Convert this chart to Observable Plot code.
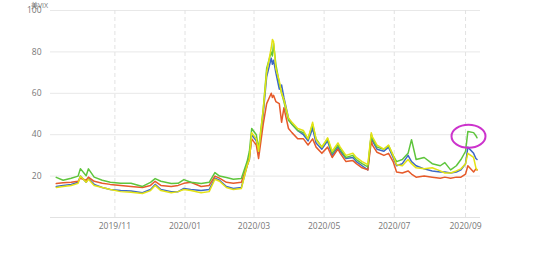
<!DOCTYPE html>
<html><head><meta charset="utf-8">
<script src="https://cdn.jsdelivr.net/npm/d3@7"></script>
<script src="https://cdn.jsdelivr.net/npm/@observablehq/plot@0.6"></script>
<style>body{margin:0;background:#fff;}</style>
</head><body><div id="chart"></div>
<script>
const dates = ["2019-09-11","2019-09-17","2019-09-24","2019-09-30","2019-10-02","2019-10-07","2019-10-09","2019-10-14","2019-10-21","2019-10-28",
"2019-11-06","2019-11-15","2019-11-25","2019-12-02","2019-12-06","2019-12-11","2019-12-20","2019-12-26","2019-12-31","2020-01-06",
"2020-01-15","2020-01-22","2020-01-27","2020-01-31","2020-02-06","2020-02-12","2020-02-19","2020-02-24","2020-02-26","2020-02-28",
"2020-03-03","2020-03-05","2020-03-09","2020-03-12","2020-03-16","2020-03-17","2020-03-18","2020-03-20","2020-03-23","2020-03-25",
"2020-03-27","2020-03-31","2020-04-03","2020-04-08","2020-04-13","2020-04-17","2020-04-21","2020-04-24","2020-04-29","2020-05-04",
"2020-05-08","2020-05-13","2020-05-15","2020-05-20","2020-05-26","2020-05-29","2020-06-03","2020-06-08","2020-06-11","2020-06-12",
"2020-06-16","2020-06-22","2020-06-26","2020-06-30","2020-07-03","2020-07-08","2020-07-13","2020-07-16","2020-07-20","2020-07-27",
"2020-08-03","2020-08-10","2020-08-14","2020-08-19","2020-08-24","2020-08-28","2020-09-01","2020-09-03","2020-09-08","2020-09-10","2020-09-11"];

const greenValues = [19.4,18,19,20,23.6,20.2,23.5,19.5,18,17,
16.5,16.5,15,17,18.8,17.5,16.4,16.5,18.3,17,
16.4,17,21.7,20,19.3,18.5,18.8,27,32,43,
40,33,52,72,80,78,84,74,65,60,
56,47,45,42,41,38,45,38,34,38,
31,35,33,29,30,28,26,24.5,40,38,
34,33,34.7,30,27,28,31,37.6,28,29,
26,25,26.5,23,25,28,32,41.5,41,39.5,38.5];

const blueValues = [15,15.5,16,17,20,17,19,16,14.5,13.5,
13,12.8,12,13.5,16,13.5,12.5,12.5,14,13.5,
13,13.5,19,18,15,14,14.5,25,28,40,
37,31,50,68,77,74,76,70,62,64,
58,48,45,42,40,37,43,36,33,37,
30,34,32,28.5,29,27,25,23,40,37,
33,32,34,29,25,26,30,27,25,23.5,
22.5,22,22,21.5,22,23,26,34,31,28.5,28];

const orangeValues = [16.4,16.8,17,17.5,19,18,19.5,17.5,16.5,16,
15.5,15,14.5,15.5,17.5,15.5,15,15.5,16.5,17,
15,15.5,20,19,17,16.5,17,25,29,38,
35,28.5,45,55,60,58,59,56,55,46,
53,43,41,38,38,35,38,34,31,34,
29,33,31,27,27.5,26,24,23,37,35,
31.5,30,31,27,22,21.5,22.5,21,19.5,20,
19.5,19,19.5,19,19.5,19.5,21,25,22,23.5,23];

const yellowValues = [14.5,15,15.5,16.5,20,17,18.5,15.5,14.5,13.5,
12.5,12.2,11.6,13,15.5,13,12,12.5,13.5,13,
12,12.5,18.5,17.5,14.5,13.5,14,25,28,41,
38,32,52,70,82,86,85,72,66,60,
57,48,46,43,42,38,46,37.5,34,38.5,
32,36,34,30,31,29,27,25.5,41,39,
35,33,35,30,25.5,25,28,26,24,23.5,
24,22.5,21.5,21.5,22.5,23.5,26,31,29,24,23];

const seriesNames = ["S1","S2","S3","S4"];
const seriesColors = ["#3d68c6","#e65a2a","#5ec53c","#e3e314"];
const yTicks = [20,40,60,80,100];
const xTicks = ["2019-11-01","2020-01-01","2020-03-01","2020-05-01","2020-07-01","2020-09-01"];
const yTitle = "美VIX";
const annotation = {date:"2020-09-04", value:39};

const valuesBySeries = {S1:blueValues, S2:orangeValues, S3:greenValues, S4:yellowValues};
const data = seriesNames.flatMap(s => dates.map((d,i) => ({date:new Date(d), value:valuesBySeries[s][i], series:s})));
const xTickDates = xTicks.map(d => new Date(d));

const plot = Plot.plot({
  width:550, height:270,
  marginLeft:50, marginRight:70, marginTop:10, marginBottom:53,
  style:{fontFamily:"'Open Sans','Noto Sans CJK SC',sans-serif", fontSize:"8.5px", color:"#777", background:"#fff"},
  x:{type:"utc", domain:[new Date("2019-09-06"), new Date("2020-09-14")]},
  y:{domain:[0,100]},
  color:{type:"ordinal", domain:seriesNames, range:seriesColors},
  marks:[
    Plot.gridY(yTicks,{stroke:"#e8e8e8", strokeOpacity:1}),
    Plot.gridX(xTickDates,{stroke:"#e2e2e2", strokeOpacity:1, strokeDasharray:"4,3"}),
    Plot.ruleY([0],{stroke:"#e2e2e2"}),
    Plot.axisY(yTicks,{tickSize:0, tickPadding:9, label:null}),
    Plot.axisX(xTickDates,{tickSize:0, tickPadding:5, tickFormat:d3.utcFormat("%Y/%m"), label:null}),
    Plot.line(data,{x:"date", y:"value", stroke:"series", strokeWidth:1.5, z:"series"}),
    Plot.text([yTitle],{frameAnchor:"top-left", dx:-11, dy:-7, textAnchor:"middle", lineAnchor:"top", fill:"#777", fontSize:7})
  ]
});

const sx = plot.scale("x"), sy = plot.scale("y");
const fx = sx.apply ? (v => sx.apply(v)) : d3.scaleUtc(sx.domain, sx.range);
const fy = sy.apply ? (v => sy.apply(v)) : d3.scaleLinear(sy.domain, sy.range);
d3.select(plot).append("ellipse")
  .attr("cx", fx(new Date(annotation.date)))
  .attr("cy", fy(annotation.value))
  .attr("rx", 17).attr("ry", 11.5)
  .attr("fill", "none").attr("stroke", "#cc33cc").attr("stroke-width", 2);

document.getElementById("chart").append(plot);
</script>
</body></html>
